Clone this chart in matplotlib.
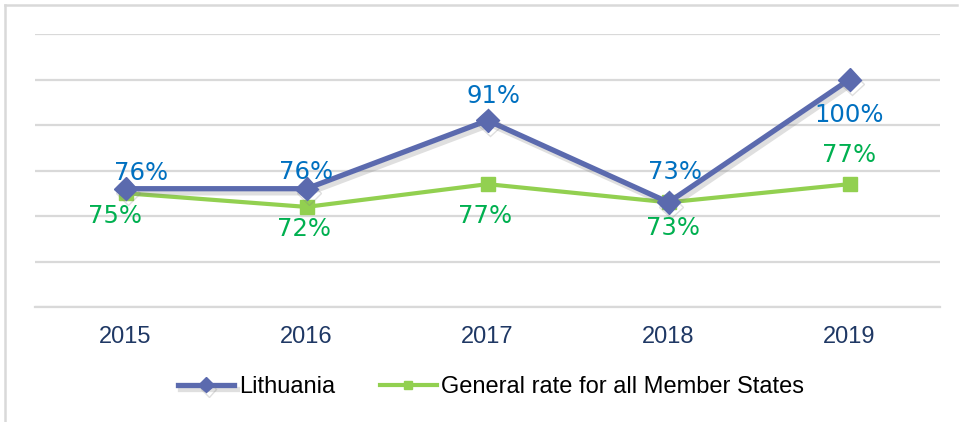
import matplotlib
matplotlib.use("Agg")
import matplotlib.pyplot as plt
import matplotlib.patheffects as pe
from matplotlib.lines import Line2D

years = ["2015", "2016", "2017", "2018", "2019"]
lithuania = [76, 76, 91, 73, 100]
general = [75, 72, 77, 73, 77]
lith_labels = ["76%", "76%", "91%", "73%", "100%"]
gen_labels = ["75%", "72%", "77%", "73%", "77%"]

# label offsets in pixels (dx, dy) - copied from the original placement
lith_off = [(16, 16), (0, 17), (6, 24), (6, 30), (0, -36)]
gen_off = [(-11, -23), (-3, -22), (-2, -32), (4, -26), (0, 29)]

lith_color = "#5B6AAE"
gen_color = "#92D050"
grid_color = "#D9D9D9"

fig = plt.figure(figsize=(9.6, 4.22), dpi=100)
ax = fig.add_axes([35 / 960, 1 - 307 / 422, 905 / 960, 273 / 422])

x = list(range(len(years)))
ax.plot(x, lithuania, color=lith_color, lw=3.8, marker="D", ms=12,
        label="Lithuania", zorder=4,
        path_effects=[pe.SimpleLineShadow(offset=(2, -3), shadow_color="gray", alpha=0.25),
                      pe.Normal()])
ax.plot(x, general, color=gen_color, lw=3.0, marker="s", ms=9.5,
        label="General rate for all Member States", zorder=3)

for i in x:
    ax.annotate(lith_labels[i], (i, lithuania[i]), xytext=lith_off[i],
                textcoords="offset pixels", ha="center", va="center",
                fontsize=17.5, color="#0070C0", family="DejaVu Sans", zorder=5)
    ax.annotate(gen_labels[i], (i, general[i]), xytext=gen_off[i],
                textcoords="offset pixels", ha="center", va="center",
                fontsize=17.5, color="#00B050", family="DejaVu Sans", zorder=5)

ax.set_xlim(-0.5, len(years) - 0.5)
ax.set_ylim(50, 110)
ax.set_yticks(range(50, 111, 10))
ax.yaxis.grid(True, color=grid_color, lw=1.6)
ax.set_axisbelow(True)
ax.tick_params(axis="y", left=False, labelleft=False)
ax.set_xticks(x)
ax.set_xticklabels(years, fontsize=17, color="#1F3864", family="Liberation Sans")
ax.tick_params(axis="x", length=0, pad=14)
for s in ["top", "right", "left"]:
    ax.spines[s].set_visible(False)
ax.spines["bottom"].set_color(grid_color)
ax.spines["bottom"].set_linewidth(1.6)

leg = fig.legend(loc="center", bbox_to_anchor=(491 / 960, 1 - 387 / 422), ncol=2,
                 frameon=False, handlelength=2.4, handletextpad=0.2, markerscale=0.65,
                 columnspacing=1.9, prop={"family": "Liberation Sans", "size": 17})

# outer frame (left and top edges only visible)
fig.add_artist(Line2D([5 / 960, 5 / 960], [0, 1 - 5 / 422], color=grid_color, lw=1.8))
fig.add_artist(Line2D([5 / 960, 957 / 960], [1 - 5 / 422, 1 - 5 / 422], color=grid_color, lw=1.8))

fig.savefig("out.png", dpi=100)
